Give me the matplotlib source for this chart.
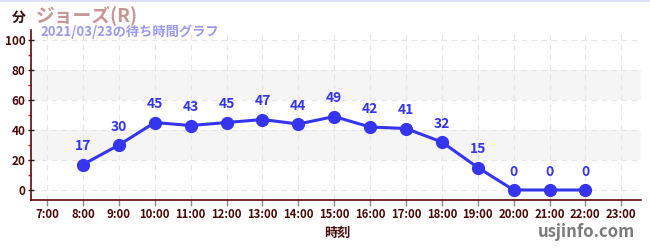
import matplotlib
matplotlib.use("Agg")
import matplotlib.pyplot as plt
from matplotlib.ticker import MultipleLocator

plt.rcParams['font.family'] = ['Noto Sans CJK JP', 'DejaVu Sans']

hours = [8, 9, 10, 11, 12, 13, 14, 15, 16, 17, 18, 19, 20, 21, 22]
waits = [17, 30, 45, 43, 45, 47, 44, 49, 42, 41, 32, 15, 0, 0, 0]
tick_hours = list(range(7, 24))
tick_labels = [f"{h}:00" for h in tick_hours]
y_ticks = [0, 20, 40, 60, 80, 100]

title = "ジョーズ(R)"
subtitle = "2021/03/23の待ち時間グラフ"
unit = "分"
xlabel = "時刻"
site = "usjinfo.com"

fig = plt.figure(figsize=(6.5, 2.5), dpi=100)
ax = fig.add_axes([31/650, 50/250, 610/650, 170/250])
ax.set_xlim(6.55, 23.55)
ax.set_ylim(-6.67, 106.7)

for lo, hi in [(20, 40), (60, 80)]:
    ax.axhspan(lo, hi, color='#f5f5f5', zorder=0, lw=0)

ax.grid(True, color='#e6e6e6', linestyle=(0, (5, 4)), linewidth=0.8, zorder=0.5)
ax.set_axisbelow(True)

line_color = '#3535f0'
ax.plot(hours, waits, color=line_color, lw=2.2, marker='o', ms=8.5, zorder=3)
for h, w in zip(hours, waits):
    ax.annotate(str(w), (h, w), xytext=(0, 8), textcoords='offset points',
                ha='center', va='bottom', color=line_color, fontsize=10,
                fontweight='bold', zorder=4)

ax.set_xticks(tick_hours)
ax.set_xticklabels(tick_labels)
ax.set_yticks(y_ticks)
ax.yaxis.set_minor_locator(MultipleLocator(10))

tick_color = '#4a0a0a'
ax.tick_params(axis='x', colors='#888888', labelcolor=tick_color, labelsize=8.2, length=4, width=1, pad=2)
ax.tick_params(axis='y', which='major', colors='#222222', labelcolor=tick_color, labelsize=8.5, length=4, width=1, pad=2, direction='inout')
ax.tick_params(axis='y', which='minor', colors='#e02020', length=2.5, width=1, direction='out')
for lbl in ax.get_xticklabels() + ax.get_yticklabels():
    lbl.set_fontweight('bold')

for s in ['top', 'right']:
    ax.spines[s].set_visible(False)
for s in ['left', 'bottom']:
    ax.spines[s].set_color('#5a0a0a')
    ax.spines[s].set_linewidth(1.2)

fig.text(12/650, 1 - 18/250, unit, ha='left', va='center', fontsize=10, fontweight='bold', color='#3a0a0a')
fig.text(36/650, 1 - 15/250, title, ha='left', va='center', fontsize=13.5, fontweight='bold', color='#c99494')
fig.text(40/650, 1 - 32/250, subtitle, ha='left', va='center', fontsize=9.5, fontweight='bold', color='#9a9af0')
fig.text(337/650, 1 - 233/250, xlabel, ha='center', va='center', fontsize=9.5, fontweight='bold', color='#4a0a0a')
fig.text(635/650, 1 - 232/250, site, ha='right', va='center', fontsize=12, fontweight='bold', color='#7a7a7a')

fig.add_artist(plt.Line2D([0, 1], [1 - 0.5/250, 1 - 0.5/250], color='#e0e0f8', lw=1.5, transform=fig.transFigure))

fig.savefig('out.png', dpi=100)
